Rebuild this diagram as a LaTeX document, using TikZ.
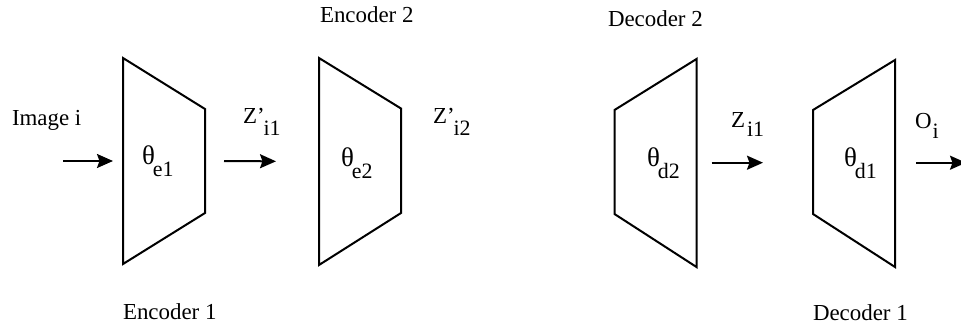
\documentclass[tikz,border=0pt]{standalone}
\usepackage{fontspec}
\setmainfont{Liberation Serif}
\usetikzlibrary{arrows.meta}
\tikzset{
  lbl/.style={inner sep=0pt, outer sep=0pt, anchor=base west, font=\fontsize{23}{27}\selectfont},
  box/.style={draw=none, inner sep=0pt, outer sep=0pt, minimum width=82bp},
  trap/.style={draw=black, line width=2bp, line join=miter},
  arr/.style={line width=2bp, -{Stealth[length=16bp, width=14bp, inset=2.5bp]}}
}
\newcommand{\sbx}[1]{\raisebox{-12bp}{\fontsize{22}{26}\selectfont #1}}
\newcommand{\thg}{{\fontsize{27}{30}\selectfont θ}}
\begin{document}
\begin{tikzpicture}[x=1bp, y=-1bp]
\useasboundingbox (0,0) rectangle (961,327);
% boxes (trapezoid frames)
\node[box, minimum height=206bp] (enc1) at (164,161) {};
\node[box, minimum height=207bp] (enc2) at (360,161.5) {};
\node[box, minimum height=208bp] (dec2) at (655.5,163) {};
\node[box, minimum height=207bp] (dec1) at (854,163.5) {};
\draw[trap] (enc1.north west) -- (enc1.south west) -- ([yshift=51bp]enc1.south east) -- ([yshift=-51bp]enc1.north east) -- cycle;
\draw[trap] (enc2.north west) -- (enc2.south west) -- ([yshift=52bp]enc2.south east) -- ([yshift=-50.5bp]enc2.north east) -- cycle;
\draw[trap] (dec2.north east) -- (dec2.south east) -- ([yshift=53bp]dec2.south west) -- ([yshift=-51bp]dec2.north west) -- cycle;
\draw[trap] (dec1.north east) -- (dec1.south east) -- ([yshift=53bp]dec1.south west) -- ([yshift=-50bp]dec1.north west) -- cycle;
% labels
\node[lbl] (img) at (12,125) {Image i};
\node[lbl] (e1lab) at (123,319) {Encoder 1};
\node[lbl] (e2lab) at (320,22.5) {Encoder 2};
\node[lbl] (d2lab) at (608,26) {Decoder 2};
\node[lbl] (d1lab) at (813,320) {Decoder 1};
\node[lbl] (te1) at (142,164) {\thg\kern-2bp\sbx{e1}};
\node[lbl] (te2) at (341,166) {\thg\kern-2bp\sbx{e2}};
\node[lbl] (td2) at (647,166) {\thg\kern-2bp\sbx{d2}};
\node[lbl] (td1) at (844,166) {\thg\kern-2bp\sbx{d1}};
\node[lbl] (z1) at (243,123) {Z’\kern-1bp\sbx{i1}};
\node[lbl] (z2) at (433,123) {Z’\kern-1bp\sbx{i2}};
\node[lbl] (z3) at (731,127) {Z\kern2bp\raisebox{-9bp}{\fontsize{22}{26}\selectfont i1}};
\node[lbl] (oi) at (915,128) {O\kern1bp\raisebox{-10bp}{\fontsize{22}{26}\selectfont i}};
% connectors
\coordinate (in) at (63,161);
\coordinate (out) at (966,162.7);
\draw[arr, shorten >=10bp] (in) -- (enc1.west);
\draw[arr, shorten <=19bp, shorten >=43bp] (enc1.east) -- (enc2.west);
\draw[arr, shorten <=15bp, shorten >=50bp] (dec2.east |- 0,162.7) -- (dec1.west |- 0,162.7);
\draw[arr, shorten <=21bp] (dec1.east |- out) -- (out);
\end{tikzpicture}
\end{document}
